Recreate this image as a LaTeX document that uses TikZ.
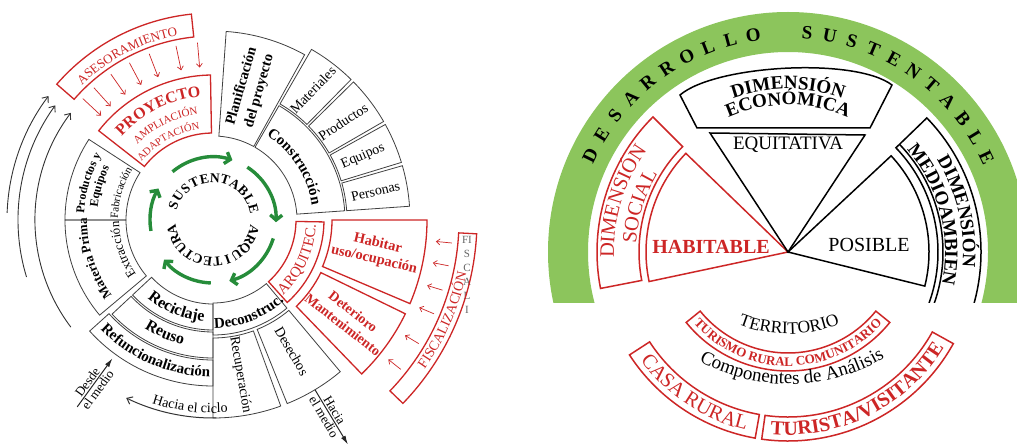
\documentclass[tikz,border=0pt]{standalone}
\usepackage{fontspec}
\setmainfont{Liberation Serif}
\usetikzlibrary{arrows.meta,decorations.text}
\definecolor{myred}{RGB}{205,38,38}
\definecolor{mygreen}{RGB}{38,140,58}
\definecolor{bandgreen}{RGB}{140,197,92}
\newcommand\F[1]{\fontsize{#1}{#1}\selectfont}
\newcommand\annsec[6]{\draw[#6] ([shift={(#4:#2pt)}]#1) arc[start angle=#4,end angle=#5,radius=#2pt] -- ([shift={(#5:#3pt)}]#1) arc[start angle=#5,end angle=#4,radius=#3pt] -- cycle;}
\newcommand\arctxt[6]{\path[decorate,decoration={text along path,text align=center,text={|#5|#6}}] ([shift={(#3:#2pt)}]#1) arc[start angle=#3,end angle=#4,radius=#2pt];}
\begin{document}
\begin{tikzpicture}[x=1pt,y=1pt,
  bx/.style={draw=black!75, line width=0.8pt},
  rbx/.style={draw=myred, line width=1.3pt},
  kbx/.style={draw=black, line width=1.5pt},
  rbx2/.style={draw=myred, line width=1.5pt},
  garrow/.style={draw=mygreen, line width=3.4pt, -{Straight Barb[length=5pt,width=12pt]}},
  karc/.style={draw=black!80, line width=0.9pt, -{Straight Barb[length=5pt,width=8pt]}},
  rarr/.style={draw=myred, line width=0.7pt, -{Straight Barb[length=3.5pt,width=6pt]}},
  farr/.style={draw=black!85, line width=1pt, -{Latex[length=9pt,width=5pt]}},
  lbl/.style={inner sep=0pt}]
\useasboundingbox (0,0) rectangle (1017,445);
\fill[white] (0,0) rectangle (1017,445);
\coordinate (C1) at (213,225);
\coordinate (C2) at (788,193);
\coordinate (C3) at (788,205);
\coordinate (C4) at (789,248);
\coordinate (C5) at (788,245);

% ================= LEFT =================
% ASESORAMIENTO
\annsec{C1}{184}{207}{96}{139}{rbx}
\arctxt{C1}{188}{139}{96}{\F{13}\color{myred}}{ASESORAMIENTO}
\foreach \a [count=\i] in {137,132,125,118,111,102,95}{
  \coordinate (pa\i) at ([shift={(\a:178pt)}]C1);
  \coordinate (pb\i) at ([shift={(\a:153pt)}]C1);
  \draw[rarr] (pa\i) -- (pb\i);}
% PROYECTO
\annsec{C1}{87}{145}{91}{142}{rbx}
\arctxt{C1}{124}{142}{91}{\F{16}\bfseries\color{myred}}{PROYECTO}
\arctxt{C1}{107}{142}{91}{\F{11}\color{myred}}{AMPLIACIÓN}
\arctxt{C1}{92}{146}{93}{\F{10.5}\color{myred}}{ADAPTACIÓN}
% Planificacion
\annsec{C1}{84}{189}{61}{86}{bx}
\node[lbl, rotate=74, font=\F{14.5}\bfseries] (plan1) at ([shift={(78.5:137pt)}]C1) {Planificación};
\node[lbl, rotate=74, font=\F{14.5}\bfseries] (plan2) at ([shift={(70.2:137pt)}]C1) {del proyecto};
% Construccion
\annsec{C1}{84}{132}{4}{60}{bx}
\arctxt{C1}{100}{62}{4}{\F{15}\bfseries}{Construcción}
\annsec{C1}{134}{197}{45.5}{60}{bx}
\annsec{C1}{134}{197}{30}{44.5}{bx}
\annsec{C1}{134}{197}{17}{29}{bx}
\annsec{C1}{134}{197}{4}{16}{bx}
\node[lbl,rotate=46,font=\F{14}] (mat) at ([shift={(52.5:164pt)}]C1) {Materiales};
\node[lbl,rotate=33,font=\F{14}] (prod) at ([shift={(37:163pt)}]C1) {Productos};
\node[lbl,rotate=23,font=\F{14}] (equ) at ([shift={(23:163pt)}]C1) {Equipos};
\node[lbl,rotate=13,font=\F{14}] (pers) at ([shift={(10:165pt)}]C1) {Personas};
% Habitar / Deterioro
\annsec{C1}{119}{214}{-23}{0}{rbx}
\node[lbl, rotate=-13, font={\fontsize{14.5}{16.5}\selectfont\bfseries}, text=myred, align=center] (hab) at ([shift={(-11:166pt)}]C1) {Habitar\\uso/ocupación};
\annsec{C1}{120}{214}{-46}{-26}{rbx}
\node[lbl, rotate=-38, font={\fontsize{14}{16.5}\selectfont\bfseries}, text=myred, align=center] (det) at ([shift={(-36:167pt)}]C1) {Deterioro\\Mantenimiento};
% ARQUITEC
\annsec{C1}{83}{111}{-48}{-1}{rbx}
\arctxt{C1}{103}{-56}{6}{\F{15}\color{myred}}{ARQUITEC.}
% FISCALIZACION
\foreach \l [count=\i] in {FI,S,C,A,L,I}{
  \node[lbl, font=\F{11}, text=black!60] (fs\i) at (467,219-14*\i) {\l};}
\annsec{C1}{246}{264}{-44}{-3}{rbx}
\arctxt{C1}{259}{-44}{-3}{\F{14}\color{myred}}{FISCALIZACIÓN}
\foreach \a [count=\i] in {-5.5,-11,-17,-23,-31,-38.5}{
  \coordinate (fa\i) at ([shift={(\a:240pt)}]C1);
  \coordinate (fb\i) at ([shift={(\a:224pt)}]C1);
  \draw[rarr] (fa\i) -- (fb\i);}
% Deconstruc
\annsec{C1}{83}{115}{-90}{-50}{bx}
\arctxt{C1}{108}{-96}{-42}{\F{15}\bfseries}{Deconstruc.}
\annsec{C1}{118}{198}{-90}{-70}{bx}
\annsec{C1}{118}{198}{-68}{-50}{bx}
\node[lbl,rotate=-80,font=\F{14}] (rec) at ([shift={(-80:157pt)}]C1) {Recuperación};
\node[lbl,rotate=-60,font=\F{14}] (des) at ([shift={(-59:153pt)}]C1) {Desechos};
% Reciclaje / Reuso / Refuncionalizacion
\annsec{C1}{84}{110}{223}{270}{bx}
\annsec{C1}{112}{138}{223}{270}{bx}
\annsec{C1}{140}{166}{222}{270}{bx}
\arctxt{C1}{102}{224}{271}{\F{16}\bfseries}{Reciclaje}
\arctxt{C1}{128}{223}{271}{\F{16}\bfseries}{Reuso}
\arctxt{C1}{157}{220}{273}{\F{15}\bfseries}{Refuncionalización}
% Materia Prima
\annsec{C1}{87}{148}{180}{220}{bx}
\arctxt{C1}{126}{219}{177}{\F{13}\bfseries}{Materia Prima}
\arctxt{C1}{94}{219}{177}{\F{13}}{Extracción}
% Productos y Equipos
\annsec{C1}{87}{148}{147}{180}{bx}
\arctxt{C1}{129}{180}{147}{\F{12}\bfseries}{Productos y}
\arctxt{C1}{116}{180}{147}{\F{12}\bfseries}{Equipos}
\arctxt{C1}{95}{181}{146}{\F{11}}{Fabricación}
% green cycle arrows
\foreach \s/\e [count=\i] in {130/72, 57/-2, -17/-75, -92/-141, 190/150}{
  \coordinate (ga\i) at ([shift={(\s:63pt)}]C1);
  \draw[garrow] (ga\i) arc[start angle=\s, end angle=\e, radius=63pt];}
% SUSTENTABLE ARQUITECTURA
\foreach \l [count=\i] in {S,U,S,T,E,N,T,A,B,L,E}{
  \pgfmathsetmacro\ang{160-14.5*(\i-1)}
  \pgfmathsetmacro\rot{\ang-90}
  \node[lbl, font=\F{13.5}\bfseries, rotate=\rot] (sa\i) at ([shift={(\ang:42pt)}]C1) {\l};}
\foreach \l [count=\i] in {A,R,Q,U,I,T,E,C,T,U,R,A}{
  \pgfmathsetmacro\ang{-14-13.9*(\i-1)}
  \pgfmathsetmacro\rot{\ang-90}
  \node[lbl, font=\F{13.5}\bfseries, rotate=\rot] (sb\i) at ([shift={(\ang:42pt)}]C1) {\l};}
% outer black arcs
\foreach \r/\s/\e [count=\i] in {206/178/143, 195/197/144, 178/217/143}{
  \coordinate (ka\i) at ([shift={(\s:\r pt)}]C1);
  \draw[karc] (ka\i) arc[start angle=\s,end angle=\e,radius=\r pt];}
% Desde el medio
\coordinate (dm1) at ([shift={(234:231pt)}]C1);
\coordinate (dm2) at ([shift={(234:171pt)}]C1);
\draw[farr] (dm1) -- (dm2);
\coordinate (dmm) at ([shift={(234:205pt)}]C1);
\node[rotate=54, anchor=south, inner sep=1.5pt, font=\F{13}] (desde) at (dmm) {Desde};
\node[rotate=54, anchor=north, inner sep=1.5pt, font=\F{13}] (elm1) at (dmm) {el medio};
% Hacia el ciclo
\coordinate (hc1) at ([shift={(271:198pt)}]C1);
\draw[karc, line width=1pt] (hc1) arc[start angle=271,end angle=244,radius=198pt];
\arctxt{C1}{193}{250}{276}{\F{14}}{Hacia el ciclo}
% Hacia el medio
\coordinate (hm1) at ([shift={(-59:198pt)}]C1);
\coordinate (hm2) at ([shift={(-59:262pt)}]C1);
\draw[farr] (hm1) -- (hm2);
\coordinate (hmm) at ([shift={(-59:226pt)}]C1);
\node[rotate=-59, anchor=south, inner sep=1.5pt, font=\F{13}] (hacia2) at (hmm) {Hacia};
\node[rotate=-59, anchor=north, inner sep=1.5pt, font=\F{13}] (elm2) at (hmm) {el medio};

% ================= RIGHT =================
\begin{scope}
\clip (540,143) rectangle (1017,445);
\fill[bandgreen, even odd rule] (C2) circle[radius=240pt] (C2) circle[radius=200pt];
\annsec{C2}{150}{193}{-22}{44}{kbx}
\draw[kbx] ([shift={(-22:155pt)}]C2) arc[start angle=-22,end angle=44,radius=155pt];
\arctxt{C2}{175}{44}{-17}{\F{19}\bfseries}{DIMENSIÓN}
\arctxt{C2}{157}{44}{-15}{\F{19}\bfseries}{MEDIOAMBIEN}
\end{scope}
\foreach \l [count=\i] in {D,E,S,A,R,R,O,L,L,O}{
  \pgfmathsetmacro\ang{154-6.1*(\i-1)}
  \pgfmathsetmacro\rot{\ang-90}
  \node[lbl, font=\F{19}\bfseries, rotate=\rot] (da\i) at ([shift={(\ang:220pt)}]C2) {\l};}
\foreach \l [count=\i] in {S,U,S,T,E,N,T,A,B,L,E}{
  \pgfmathsetmacro\ang{85-5.95*(\i-1)}
  \pgfmathsetmacro\rot{\ang-90}
  \node[lbl, font=\F{19}\bfseries, rotate=\rot] (db\i) at ([shift={(\ang:220pt)}]C2) {\l};}
% social
\annsec{C2}{149}{191}{135}{191}{rbx2}
\arctxt{C2}{174}{191}{135}{\F{20.5}\color{myred}}{DIMENSIÓN}
\arctxt{C2}{152}{191}{135}{\F{20.5}\color{myred}}{SOCIAL}
\draw[rbx2] (C2) -- ([shift={(136:142pt)}]C2) arc[start angle=136,end angle=192,radius=142pt] -- cycle;
\node[lbl, font=\F{20}\bfseries, text=myred] (habt) at (711,198) {HABITABLE};
% economica
\draw[kbx] (C2) -- (710,312) -- (865,310) -- cycle;
\node[lbl, font=\F{19}] (equit) at (788,300) {EQUITATIVA};
\draw[kbx] (697,317) -- (680,350) .. controls (715,380) and (855,388) .. (892,360) -- (870,317) -- cycle;
\arctxt{C2}{163}{126}{54}{\F{19}\bfseries}{DIMENSIÓN}
\arctxt{C2}{147}{126}{54}{\F{19}\bfseries}{ECONÓMICA}
% posible
\draw[kbx] (C2) -- ([shift={(43:141pt)}]C2) arc[start angle=43,end angle=-14,radius=141pt] -- cycle;
\node[lbl, font=\F{20}] (pos) at (869,200) {POSIBLE};
% bottom components
\arctxt{C5}{134}{240}{301}{\F{17.5}}{TERRITORIO}
\annsec{C3}{113}{131}{219}{321}{rbx2}
\arctxt{C3}{126}{219}{321}{\F{13}\bfseries\color{myred}}{TURISMO RURAL COMUNITARIO}
\arctxt{C4}{187}{236}{306}{\F{19}}{Componentes de Análisis}
\annsec{C2}{165}{189}{213}{260}{rbx2}
\annsec{C2}{165}{189}{262}{331}{rbx2}
\arctxt{C2}{183}{211}{262}{\F{20.5}\color{myred}}{CASA RURAL}
\arctxt{C2}{183}{262}{331}{\F{20}\bfseries\color{myred}}{TURISTA/VISITANTE}
\end{tikzpicture}
\end{document}
